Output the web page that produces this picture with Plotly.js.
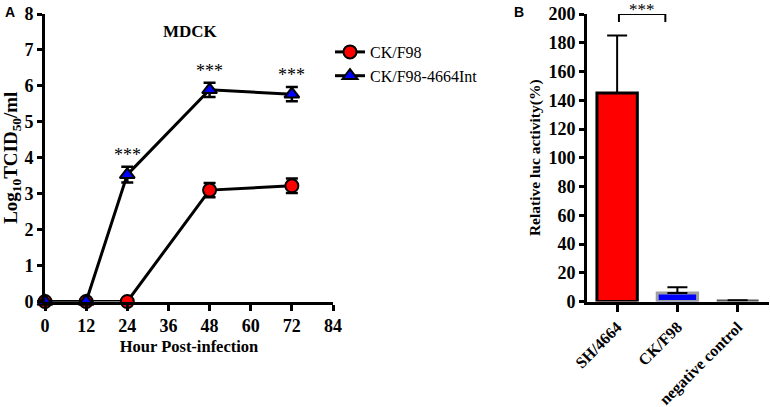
<!DOCTYPE html>
<html><head><meta charset="utf-8">
<script src="https://cdn.plot.ly/plotly-3.0.1.min.js"></script>
<style>body{margin:0;background:#fff}#chart{width:770px;height:407px}</style>
</head><body><div id="chart"></div>
<script>
// Panel A data
const hours = [0, 12, 24, 48, 72];
const ckF98 = [0, 0, 0, 3.1, 3.22];
const ckF98Err = [0, 0, 0, 0.2, 0.2];
const ck4664 = [0, 0, 3.53, 5.89, 5.77];
const ck4664Err = [0, 0, 0.22, 0.2, 0.2];
const sigHours = [24, 48, 72];
const xTicksA = [0, 12, 24, 36, 48, 60, 72, 84];
// Panel B data
const groupsB = ['SH/4664', 'CK/F98', 'negative control'];
const lucVals = [145, 6, 0.8];
const lucErr = [40, 4, 0];
const yTicksB = [0, 20, 40, 60, 80, 100, 120, 140, 160, 180, 200];

const W = 770, H = 407;
const serif = 'Liberation Serif';
const bold = {family: serif, size: 18, color: '#000', weight: 'bold'};
const px = v => v / W;
const py = v => 1 - v / H;

const traces = [
  {x: hours, y: ckF98, name: 'CK/F98', type: 'scatter', mode: 'lines+markers',
   xaxis: 'x', yaxis: 'y', cliponaxis: false,
   line: {color: '#000', width: 3},
   marker: {symbol: 'circle', size: 13, color: '#ff0000', line: {color: '#000', width: 2}},
   error_y: {type: 'data', array: ckF98Err, visible: true, color: '#000', thickness: 2.5, width: 6}},
  {x: hours, y: ck4664, name: 'CK/F98-4664Int', type: 'scatter', mode: 'lines+markers',
   xaxis: 'x', yaxis: 'y', cliponaxis: false,
   line: {color: '#000', width: 3},
   marker: {symbol: 'triangle-up', size: 13, color: '#0000ff', line: {color: '#000', width: 2}},
   error_y: {type: 'data', array: ck4664Err, visible: true, color: '#000', thickness: 2.5, width: 6}},
  {x: groupsB, y: lucVals, type: 'bar', xaxis: 'x2', yaxis: 'y2', showlegend: false,
   width: 0.67, cliponaxis: false,
   marker: {color: ['#ff0000', '#0000ff', '#ffffff'], line: {color: ['#000', '#a0a0a0', '#555'], width: [3, 3, 1.5]}},
   error_y: {type: 'data', array: lucErr, arrayminus: [0, 0, 0], symmetric: false, visible: true, color: '#000', thickness: 2, width: 10}}
];

const annotations = [
  {text: '<b>A</b>', x: px(3), y: py(2), xref: 'paper', yref: 'paper', xanchor: 'left', yanchor: 'top', showarrow: false, font: {family: 'Liberation Sans', size: 14, color: '#000'}},
  {text: '<b>B</b>', x: px(512), y: py(2), xref: 'paper', yref: 'paper', xanchor: 'left', yanchor: 'top', showarrow: false, font: {family: 'Liberation Sans', size: 14, color: '#000'}},
  {text: '<b>MDCK</b>', x: px(190), y: py(32), xref: 'paper', yref: 'paper', xanchor: 'center', yanchor: 'middle', showarrow: false, font: {family: serif, size: 17, color: '#000'}},
  {text: '***', x: 0.42, y: py(9), xref: 'x2', yref: 'paper', xanchor: 'center', yanchor: 'middle', showarrow: false, font: {family: serif, size: 17, color: '#000000'}}
];
sigHours.forEach(h => {
  const i = hours.indexOf(h);
  annotations.push({text: '***', x: h, y: ck4664[i] + ck4664Err[i], xref: 'x', yref: 'y',
    xanchor: 'center', yanchor: 'bottom', yshift: 0, showarrow: false,
    font: {family: serif, size: 18, color: '#000000'}});
});

const shapes = [
  {type: 'path', xref: 'x2', yref: 'y2', path: 'M 0.03,194.5 L 0.03,200 L 0.8,200 L 0.8,194.5', line: {color: '#000', width: 2}}
];

const yDom = [py(301.5), py(14)];
const layout = {
  width: W, height: H, margin: {l: 0, r: 0, t: 0, b: 0},
  paper_bgcolor: '#fff', plot_bgcolor: 'rgba(0,0,0,0)',
  font: {family: serif, color: '#000'},
  showlegend: true,
  legend: {x: px(330), y: py(35), xanchor: 'left', yanchor: 'top', font: {family: serif, size: 16, color: '#000'},
           bgcolor: 'rgba(0,0,0,0)', tracegroupgap: 0, itemwidth: 30},
  xaxis: {domain: [px(45), px(333)], range: [0, 84], tickvals: xTicksA, ticktext: xTicksA.map(String),
          showline: true, linecolor: '#000', linewidth: 3, ticks: 'outside', ticklen: 6, tickwidth: 3, tickcolor: '#000',
          showgrid: false, zeroline: false, tickfont: bold, anchor: 'y',
          title: {text: 'Hour Post-infection', font: {family: serif, size: 16.5, color: '#000', weight: 'bold'}, standoff: 6}},
  yaxis: {domain: yDom, range: [0, 8], dtick: 1, showline: true, linecolor: '#000', linewidth: 3,
          ticks: 'outside', ticklen: 5, tickwidth: 3, tickcolor: '#000', showgrid: false, zeroline: false,
          tickfont: bold, anchor: 'x',
          title: {text: 'Log<sub>10</sub>TCID<sub>50</sub>/ml', font: {family: serif, size: 19, color: '#000', weight: 'bold'}, standoff: 4}},
  xaxis2: {domain: [px(587), px(769)], range: [-0.5, 2.52], type: 'category', showline: true, linecolor: '#000', linewidth: 3,
           ticks: 'outside', ticklen: 7, tickwidth: 3, tickcolor: '#000', showgrid: false, zeroline: false,
           tickfont: {family: serif, size: 16, color: '#000', weight: 'bold'}, tickangle: -45, anchor: 'y2'},
  yaxis2: {domain: yDom, range: [0, 200], tickvals: yTicksB, showline: true, linecolor: '#000', linewidth: 3,
           ticks: 'outside', ticklen: 5, tickwidth: 3, tickcolor: '#000', showgrid: false, zeroline: false,
           tickfont: bold, anchor: 'x2',
           title: {text: 'Relative luc activity(%)', font: {family: serif, size: 15.5, color: '#000', weight: 'bold'}, standoff: 4}},
  annotations: annotations, shapes: shapes
};
Plotly.newPlot('chart', traces, layout, {displayModeBar: false, staticPlot: true});
</script></body></html>
